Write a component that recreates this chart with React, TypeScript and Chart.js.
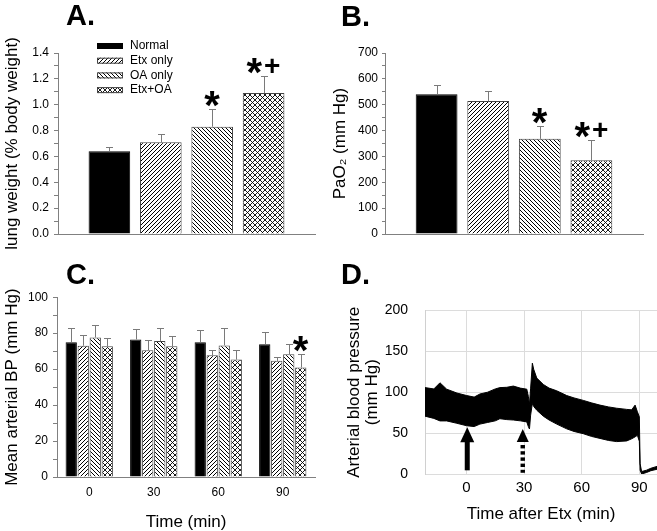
import React, { useEffect, useRef } from 'react';
import { Chart, registerables } from 'chart.js';

Chart.register(...registerables);

const FONT = '"Liberation Sans", Arial, "DejaVu Sans", sans-serif';

// ---------- shared groups ----------
const groupLabels = ['Normal', 'Etx only', 'OA only', 'Etx+OA'];
const groupFill = ['solid', 'fwd', 'back', 'cross'];

// ---------- Panel A: lung weight ----------
const lungWeightMean = [0.64, 0.71, 0.83, 1.09];
const lungWeightSE = [0.03, 0.06, 0.14, 0.13];
const lungWeightSig = ['', '', '*', '*+'];

// ---------- Panel B: PaO2 ----------
const pao2Mean = [540, 514, 368, 285];
const pao2SE = [35, 40, 49, 77];
const pao2Sig = ['', '', '*', '*+'];

// ---------- Panel C: mean arterial BP ----------
const timeLabels = ['0', '30', '60', '90'];
const mapNormal = [75.0, 76.5, 74.9, 73.8];
const mapNormalSE = [7.9, 5.9, 6.8, 6.8];
const mapEtx = [73.0, 70.5, 67.7, 64.6];
const mapEtxSE = [5.7, 5.6, 2.8, 2.2];
const mapOA = [77.6, 75.6, 73.2, 68.3];
const mapOASE = [7.2, 7.3, 9.7, 5.8];
const mapEtxOA = [72.7, 72.7, 65.3, 60.9];
const mapEtxOASE = [4.7, 5.6, 5.2, 7.7];
const mapNoSig = ['', '', '', ''];
const mapEtxOASig = ['', '', '', '*'];

// ---------- Panel D: arterial pressure trace ----------
const traceTime = [-21.6, -17, -13.8, -10.3, -5, 0.1, 4, 7, 11, 15, 17.4, 21, 24.4, 28, 31.4, 32.2, 32.8, 33.4, 34.3, 35, 36.6, 40, 43, 47, 52.2, 56, 60.8, 65, 69.5, 74, 78.2, 83.4, 86, 87.8, 89, 90, 90.4, 91.2, 93.8, 96, 99.2];
const traceUpper = [105.6, 104, 111.5, 103.7, 99, 95.9, 94, 97.8, 100, 104, 105.6, 106, 107.5, 105, 103.7, 95, 85, 105, 135.5, 128, 117.3, 109.5, 105, 101.7, 95.9, 93, 90, 87, 84.2, 82, 80.4, 79, 78.4, 84.2, 76, 70, 12.5, 3, 4.7, 7, 9.3];
const traceLower = [70.7, 68, 64.9, 64.9, 62, 59, 58, 61, 63, 65, 67.6, 66.5, 66, 65, 63.7, 58, 55, 72, 86.2, 82.5, 78, 70.7, 66, 61, 55.2, 52, 49.3, 46, 43.5, 41, 39.6, 40.4, 43, 45.4, 47.3, 40, 4.7, 0, 1.9, 4, 5.8];
const traceTicksX = [0, 30, 60, 90];
const arrowTime = [0.4, 29.3];
const arrowTip = [57, 55];
const arrowBase = [4.5, 1.5];
const arrowDashed = [false, true];

// ---------- helpers ----------
function makePattern(kind: string): any {
  if (kind === 'solid') return '#000';
  const s = kind === 'cross' ? 5 : 4;
  const c = document.createElement('canvas');
  c.width = s;
  c.height = s;
  const g = c.getContext('2d') as CanvasRenderingContext2D;
  g.fillStyle = '#fff';
  g.fillRect(0, 0, s, s);
  g.strokeStyle = '#000';
  g.lineWidth = kind === 'cross' ? 0.9 : 1;
  const seg = (x1: number, y1: number, x2: number, y2: number) => {
    g.beginPath();
    g.moveTo(x1, y1);
    g.lineTo(x2, y2);
    g.stroke();
  };
  if (kind === 'fwd' || kind === 'cross') {
    seg(-1, s + 1, s + 1, -1);
    seg(-1, 1, 1, -1);
    seg(s - 1, s + 1, s + 1, s - 1);
  }
  if (kind === 'back' || kind === 'cross') {
    seg(-1, -1, s + 1, s + 1);
    seg(s - 1, -1, s + 1, 1);
    seg(-1, s - 1, 1, s + 1);
  }
  return g.createPattern(c, 'repeat');
}

function drawGlyph(ctx: CanvasRenderingContext2D, ch: string, cx: number, cy: number, size: number) {
  ctx.font = `bold ${size}px ${FONT}`;
  ctx.textAlign = 'left';
  ctx.textBaseline = 'alphabetic';
  const m = ctx.measureText(ch);
  const w = m.actualBoundingBoxLeft + m.actualBoundingBoxRight;
  const h = m.actualBoundingBoxAscent + m.actualBoundingBoxDescent;
  ctx.fillText(ch, cx - w / 2 + m.actualBoundingBoxLeft, cy + h / 2 - m.actualBoundingBoxDescent);
}

const errorBarPlugin = {
  id: 'errorBars',
  afterDatasetsDraw(chart: any) {
    const { ctx } = chart;
    const yScale = chart.scales.y;
    chart.data.datasets.forEach((ds: any, di: number) => {
      const meta = chart.getDatasetMeta(di);
      if (!ds.errors) return;
      meta.data.forEach((bar: any, i: number) => {
        const v = ds.data[i];
        const top = Math.round(yScale.getPixelForValue(v + ds.errors[i])) + 0.5;
        const base = yScale.getPixelForValue(v);
        const x = Math.round(bar.x) + 0.5;
        ctx.save();
        ctx.strokeStyle = '#7a7a7a';
        ctx.lineWidth = 1;
        ctx.beginPath();
        ctx.moveTo(x, base);
        ctx.lineTo(x, top);
        ctx.moveTo(x - 3.5, top);
        ctx.lineTo(x + 3.5, top);
        ctx.stroke();
        const sig = ds.sig ? ds.sig[i] : '';
        if (sig) {
          ctx.fillStyle = '#000';
          const cy = top - 11;
          if (sig === '*') {
            drawGlyph(ctx, '*', bar.x, cy, 40);
          } else {
            drawGlyph(ctx, '*', bar.x - 9, cy, 40);
            drawGlyph(ctx, '+', bar.x + 9, cy, 28);
          }
        }
        ctx.restore();
      });
    });
  },
};

const insetLegendPlugin = {
  id: 'insetLegend',
  afterDraw(chart: any) {
    const { ctx, chartArea } = chart;
    ctx.save();
    chart.data.datasets.forEach((ds: any, i: number) => {
      const x = chartArea.left + 39;
      const yc = chartArea.top - 7 + i * 14.7;
      ctx.fillStyle = ds.backgroundColor;
      ctx.fillRect(x, yc - 3, 26, 6);
      ctx.strokeStyle = ds.borderColor;
      ctx.lineWidth = 1;
      ctx.strokeRect(x + 0.5, yc - 2.5, 25, 5);
      ctx.fillStyle = '#000';
      ctx.font = `12px ${FONT}`;
      ctx.textAlign = 'left';
      ctx.textBaseline = 'middle';
      ctx.fillText(ds.label, x + 33, yc);
    });
    ctx.restore();
  },
};

const arrowPlugin = {
  id: 'arrows',
  afterDatasetsDraw(chart: any) {
    const { ctx } = chart;
    const xs = chart.scales.x;
    const ys = chart.scales.y;
    ctx.save();
    ctx.fillStyle = '#000';
    arrowTime.forEach((t, i) => {
      const px = xs.getPixelForValue(t);
      const tipY = ys.getPixelForValue(arrowTip[i]);
      const baseY = ys.getPixelForValue(arrowBase[i]);
      const headW = arrowDashed[i] ? 12 : 14;
      const headH = arrowDashed[i] ? 13 : 15;
      ctx.beginPath();
      ctx.moveTo(px, tipY);
      ctx.lineTo(px - headW / 2, tipY + headH);
      ctx.lineTo(px + headW / 2, tipY + headH);
      ctx.closePath();
      ctx.fill();
      if (!arrowDashed[i]) {
        ctx.fillRect(px - 2.5, tipY + headH - 1, 5, baseY - (tipY + headH - 1));
      } else {
        for (let yy = tipY + headH + 3; yy < baseY; yy += 6.2) {
          ctx.fillRect(px - 2.2, yy, 4.4, Math.min(3.4, baseY - yy));
        }
      }
    });
    ctx.restore();
  },
};

function barYAxis(max: number, step: number, every: number, decimals: number, title: string, width: number, tickLen: number, pad: number) {
  return {
    min: 0,
    max,
    ticks: {
      stepSize: step,
      autoSkip: false,
      color: '#000',
      font: { family: FONT, size: 12 },
      padding: pad,
      callback: (v: any) => (Math.round(Number(v) / step) % every === 0 ? Number(v).toFixed(decimals) : ''),
    },
    grid: { display: true, drawOnChartArea: false, drawTicks: true, tickLength: tickLen, color: '#808080' },
    border: { display: true, color: '#808080' },
    title: { display: true, text: title, color: '#000', font: { family: FONT, size: 17 }, padding: { top: 2, bottom: 0 } },
    afterFit: (s: any) => {
      s.width = width;
    },
  };
}

function groupBarConfig(means: number[], ses: number[], sigs: string[], yAxis: any, xHeight: number, padding: any, withLegend: boolean) {
  const datasets = groupLabels.map((g, i) => ({
    label: g,
    data: [means[i]],
    errors: [ses[i]],
    sig: [sigs[i]],
    backgroundColor: makePattern(groupFill[i]),
    borderColor: i === 0 ? '#000' : '#444',
    borderWidth: 1,
    categoryPercentage: 0.8,
    barPercentage: 0.81,
  }));
  return {
    type: 'bar',
    data: { labels: [''], datasets },
    options: {
      responsive: false,
      animation: false,
      layout: { padding },
      plugins: { legend: { display: false }, tooltip: { enabled: false } },
      scales: {
        x: {
          grid: { display: false, drawTicks: false },
          ticks: { display: false },
          border: { display: true, color: '#808080' },
          afterFit: (s: any) => {
            s.height = xHeight;
          },
        },
        y: yAxis,
      },
    },
    plugins: withLegend ? [errorBarPlugin, insetLegendPlugin] : [errorBarPlugin],
  };
}

function buildA() {
  return groupBarConfig(
    lungWeightMean,
    lungWeightSE,
    lungWeightSig,
    barYAxis(1.4, 0.1, 2, 1, 'lung weight (% body weight)', 58, 4, 5),
    18,
    { left: 0, top: 23, right: 10, bottom: 0 },
    true
  );
}

function buildB() {
  return groupBarConfig(
    pao2Mean,
    pao2SE,
    pao2Sig,
    barYAxis(700, 50, 2, 0, 'PaO\u2082 (mm Hg)', 57, 3, 4),
    18,
    { left: 0, top: 23, right: 14, bottom: 0 },
    false
  );
}

function buildC() {
  const series = [
    [mapNormal, mapNormalSE, mapNoSig],
    [mapEtx, mapEtxSE, mapNoSig],
    [mapOA, mapOASE, mapNoSig],
    [mapEtxOA, mapEtxOASE, mapEtxOASig],
  ];
  const datasets = groupLabels.map((g, i) => ({
    label: g,
    data: series[i][0],
    errors: series[i][1],
    sig: series[i][2],
    backgroundColor: makePattern(groupFill[i]),
    borderColor: i === 0 ? '#000' : '#444',
    borderWidth: 1,
    categoryPercentage: 0.745,
    barPercentage: 0.94,
  }));
  return {
    type: 'bar',
    data: { labels: timeLabels, datasets },
    options: {
      responsive: false,
      animation: false,
      layout: { padding: { left: 0, top: 11, right: 10, bottom: 0 } },
      plugins: { legend: { display: false }, tooltip: { enabled: false } },
      scales: {
        x: {
          grid: { display: false, drawTicks: false },
          ticks: { color: '#000', font: { family: FONT, size: 12 }, padding: 8 },
          border: { display: true, color: '#808080' },
          title: { display: true, text: 'Time (min)', color: '#000', font: { family: FONT, size: 17, lineHeight: 1.0 }, padding: { top: 0, bottom: 0 } },
          afterFit: (s: any) => {
            s.height = 54;
          },
        },
        y: barYAxis(100, 10, 2, 0, 'Mean arterial BP (mm Hg)', 57, 4, 5),
      },
    },
    plugins: [errorBarPlugin],
  };
}

function buildD() {
  return {
    type: 'line',
    data: {
      datasets: [
        {
          label: 'lower',
          data: traceTime.map((t, i) => ({ x: t, y: traceLower[i] })),
          borderColor: '#000',
          borderWidth: 1,
          pointRadius: 0,
          fill: false,
        },
        {
          label: 'upper',
          data: traceTime.map((t, i) => ({ x: t, y: traceUpper[i] })),
          borderColor: '#000',
          backgroundColor: '#000',
          borderWidth: 1,
          pointRadius: 0,
          fill: '-1',
        },
      ],
    },
    options: {
      responsive: false,
      animation: false,
      layout: { padding: { left: 0, top: 18, right: 0, bottom: 0 } },
      plugins: { legend: { display: false }, tooltip: { enabled: false } },
      scales: {
        x: {
          type: 'linear',
          min: -21.6,
          max: 99.2,
          afterBuildTicks: (s: any) => {
            s.ticks = traceTicksX.map((v) => ({ value: v }));
          },
          ticks: { color: '#000', font: { family: FONT, size: 15 }, padding: 5 },
          grid: { color: '#dcdcdc', drawTicks: false },
          border: { display: false },
          title: { display: true, text: 'Time after Etx (min)', color: '#000', font: { family: FONT, size: 17 }, padding: { top: 0, bottom: 6 } },
          afterFit: (s: any) => {
            s.height = 57;
          },
        },
        y: {
          min: 0,
          max: 200,
          ticks: { stepSize: 50, color: '#000', font: { family: FONT, size: 14 }, padding: 17 },
          grid: { color: '#dcdcdc', drawTicks: false },
          border: { display: true, color: '#d0d0d0' },
          title: {
            display: true,
            text: ['Arterial blood pressure', '(mm Hg)'],
            color: '#000',
            font: { family: FONT, size: 17, lineHeight: 1.1 },
            padding: { top: 14.6, bottom: 0 },
          },
          afterFit: (s: any) => {
            s.width = 95;
          },
        },
      },
    },
    plugins: [arrowPlugin],
  };
}

function ChartCanvas(props: { left: number; top: number; width: number; height: number; build: () => any }) {
  const ref = useRef<HTMLCanvasElement>(null);
  useEffect(() => {
    const chart = new Chart(ref.current as HTMLCanvasElement, props.build());
    return () => chart.destroy();
  }, []);
  return (
    <canvas
      ref={ref}
      width={props.width}
      height={props.height}
      style={{ position: 'absolute', left: props.left, top: props.top, width: props.width, height: props.height }}
    />
  );
}

function PanelLetter(props: { text: string; left: number; top: number }) {
  return (
    <div
      style={{
        position: 'absolute',
        left: props.left,
        top: props.top,
        fontFamily: FONT,
        fontWeight: 'bold',
        fontSize: 29,
        lineHeight: 1,
        color: '#000',
      }}
    >
      {props.text}
    </div>
  );
}

export default function App() {
  return (
    <div style={{ position: 'absolute', left: 0, top: 0, width: 657, height: 531, background: '#fff', overflow: 'hidden' }}>
      <ChartCanvas left={0} top={30} width={325} height={222} build={buildA} />
      <ChartCanvas left={328} top={30} width={329} height={222} build={buildB} />
      <ChartCanvas left={0} top={285} width={325} height={246} build={buildC} />
      <ChartCanvas left={330} top={285} width={327} height={246} build={buildD} />
      <PanelLetter text="A." left={66} top={1} />
      <PanelLetter text="B." left={341} top={2} />
      <PanelLetter text="C." left={66} top={260} />
      <PanelLetter text="D." left={341} top={260} />
    </div>
  );
}
